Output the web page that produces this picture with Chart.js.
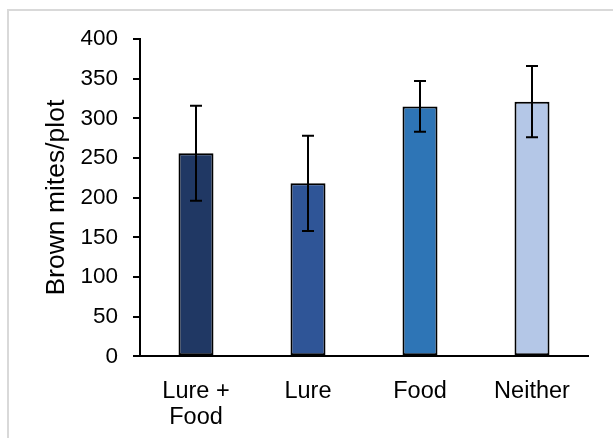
<!DOCTYPE html>
<html>
<head>
<meta charset="utf-8">
<script src="https://cdn.jsdelivr.net/npm/chart.js@4"></script>
<style>
  body { margin: 0; background: #fff; }
  #wrap { position: relative; width: 613px; height: 438px; overflow: hidden; }
  #frame { position: absolute; left: 7px; top: 9px; width: 700px; height: 500px;
           border-left: 2px solid #d9d9d9; border-top: 2px solid #d9d9d9; }
  canvas { position: absolute; left: 0; top: 0; }
</style>
</head>
<body>
<div id="wrap">
  <div id="frame"></div>
  <canvas id="mites" width="613" height="438"></canvas>
</div>
<script>
// brown mites per plot, by treatment
var categorias = [['Lure +', 'Food'], 'Lure', 'Food', 'Neither']
var medias = [256, 218, 315, 321]
var erros = [60, 60, 32, 45]
var cores = ['#203864', '#2F5597', '#2E75B6', '#B4C7E7']
var yTicks = [0, 50, 100, 150, 200, 250, 300, 350, 400]

Chart.defaults.font.family = 'Liberation Sans, Arial, sans-serif'
Chart.defaults.color = '#000'

// barras de erro
var errorBars = {
  id: 'errorBars',
  afterDatasetsDraw(chart) {
    var ctx = chart.ctx
    var x = chart.scales.x
    var y = chart.scales.y
    ctx.save()
    ctx.strokeStyle = '#000'
    ctx.lineWidth = 2
    medias.forEach((m, i) => {
      var px = x.getPixelForValue(i)
      var top = y.getPixelForValue(m + erros[i])
      var bot = y.getPixelForValue(m - erros[i])
      ctx.beginPath()
      ctx.moveTo(px, top); ctx.lineTo(px, bot)
      ctx.moveTo(px - 6, top); ctx.lineTo(px + 6, top)
      ctx.moveTo(px - 6, bot); ctx.lineTo(px + 6, bot)
      ctx.stroke()
    })
    ctx.restore()
  }
}

plots = document.getElementById('mites')

new Chart(plots, {
  type: 'bar',
  data: {
    labels: categorias,
    datasets: [{
      data: medias,
      backgroundColor: cores,
      borderColor: '#000',
      borderWidth: 2,
      borderSkipped: false,
      barPercentage: 1,
      categoryPercentage: 0.3125
    }]
  },
  options: {
    responsive: false,
    animation: false,
    layout: { padding: { left: 30, top: 39, right: 25, bottom: 0 } },
    plugins: { legend: { display: false }, tooltip: { enabled: false } },
    scales: {
      x: {
        grid: { display: false },
        border: { display: true, color: '#000', width: 2 },
        ticks: { font: { size: 23.5, lineHeight: 1.12 }, padding: 14, maxRotation: 0 },
        afterFit: s => { s.height = 81.7 }
      },
      y: {
        min: 0,
        max: 400,
        afterBuildTicks: s => { s.ticks = yTicks.map(v => ({ value: v })) },
        grid: { drawOnChartArea: false, drawTicks: true, tickLength: 7, color: '#000', lineWidth: 2 },
        border: { display: true, color: '#000', width: 2 },
        ticks: { font: { size: 22.5 }, padding: 15 },
        title: { display: true, text: 'Brown mites/plot', font: { size: 26.5 }, padding: { top: 11, bottom: 0 } },
        afterFit: s => { s.width = 110 }
      }
    }
  },
  plugins: [errorBars]
})
</script>
</body>
</html>
